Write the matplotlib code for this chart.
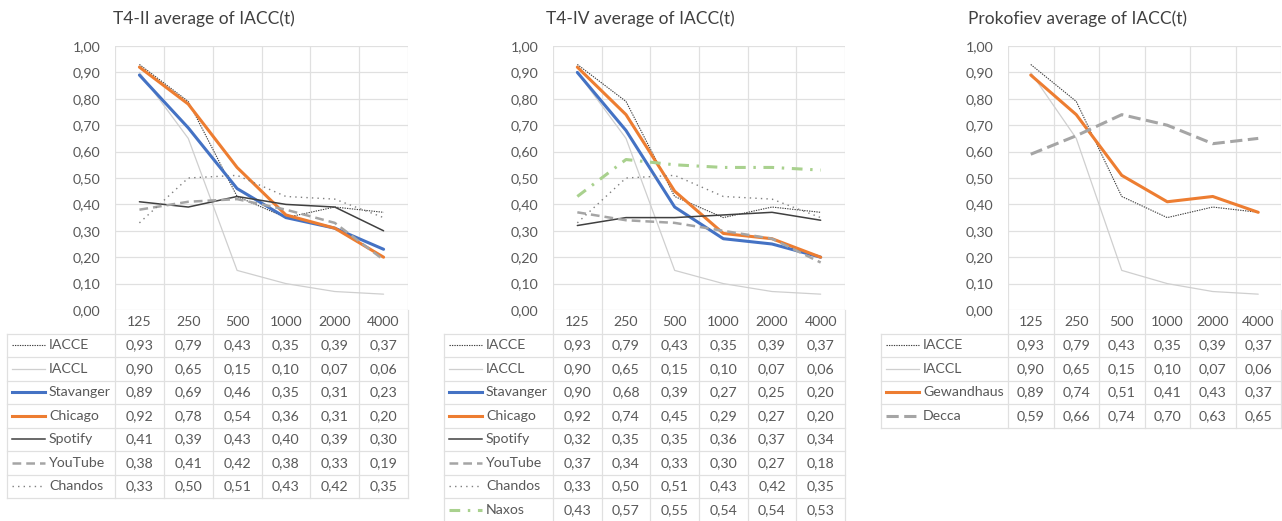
import matplotlib
matplotlib.use("Agg")
import matplotlib.pyplot as plt
from matplotlib.ticker import MultipleLocator, FuncFormatter

W, H = 1282, 521
TEXT = "#595959"
GRID = "#E0E0E0"
FS = 10.2
plt.rcParams["font.family"] = ["Lato", "DejaVu Sans"]

freqs = ["125", "250", "500", "1000", "2000", "4000"]

iacce = [0.93, 0.79, 0.43, 0.35, 0.39, 0.37]
iaccl = [0.90, 0.65, 0.15, 0.10, 0.07, 0.06]

t4ii_stavanger = [0.89, 0.69, 0.46, 0.35, 0.31, 0.23]
t4ii_chicago = [0.92, 0.78, 0.54, 0.36, 0.31, 0.20]
t4ii_spotify = [0.41, 0.39, 0.43, 0.40, 0.39, 0.30]
t4ii_youtube = [0.38, 0.41, 0.42, 0.38, 0.33, 0.19]
t4ii_chandos = [0.33, 0.50, 0.51, 0.43, 0.42, 0.35]

t4iv_stavanger = [0.90, 0.68, 0.39, 0.27, 0.25, 0.20]
t4iv_chicago = [0.92, 0.74, 0.45, 0.29, 0.27, 0.20]
t4iv_spotify = [0.32, 0.35, 0.35, 0.36, 0.37, 0.34]
t4iv_youtube = [0.37, 0.34, 0.33, 0.30, 0.27, 0.18]
t4iv_chandos = [0.33, 0.50, 0.51, 0.43, 0.42, 0.35]
t4iv_naxos = [0.43, 0.57, 0.55, 0.54, 0.54, 0.53]

prok_gewandhaus = [0.89, 0.74, 0.51, 0.41, 0.43, 0.37]
prok_decca = [0.59, 0.66, 0.74, 0.70, 0.63, 0.65]

# color, width (pt), dash pattern
styles = {
    "IACCE": ("#3F3F3F", 0.8, (0, (1.2, 1.0))),
    "IACCL": ("#CFCFCF", 0.9, "-"),
    "Stavanger": ("#4472C4", 2.2, "-"),
    "Chicago": ("#ED7D31", 2.2, "-"),
    "Gewandhaus": ("#ED7D31", 2.2, "-"),
    "Spotify": ("#404040", 1.1, "-"),
    "YouTube": ("#A5A5A5", 1.8, (0, (3.5, 2.0))),
    "Decca": ("#A5A5A5", 2.2, (0, (4.0, 1.8))),
    "Chandos": ("#7F7F7F", 1.0, (0, (1.0, 3.0))),
    "Naxos": ("#A9D18E", 2.2, (0, (3.5, 2.5, 0.8, 2.5))),
}

panels = [
    {
        "title": "T4-II average of IACC(t)",
        "plot": (115, 46, 408, 310),
        "table_left": 7,
        "series": [("IACCE", iacce), ("IACCL", iaccl), ("Stavanger", t4ii_stavanger),
                   ("Chicago", t4ii_chicago), ("Spotify", t4ii_spotify),
                   ("YouTube", t4ii_youtube), ("Chandos", t4ii_chandos)],
    },
    {
        "title": "T4-IV average of IACC(t)",
        "plot": (553, 46, 845, 310),
        "table_left": 444,
        "series": [("IACCE", iacce), ("IACCL", iaccl), ("Stavanger", t4iv_stavanger),
                   ("Chicago", t4iv_chicago), ("Spotify", t4iv_spotify),
                   ("YouTube", t4iv_youtube), ("Chandos", t4iv_chandos),
                   ("Naxos", t4iv_naxos)],
    },
    {
        "title": "Prokofiev average of IACC(t)",
        "plot": (1008, 46, 1281, 310),
        "table_left": 881,
        "series": [("IACCE", iacce), ("IACCL", iaccl),
                   ("Gewandhaus", prok_gewandhaus), ("Decca", prok_decca)],
    },
]

ROW_TOP = 333.5
ROW_H = 23.5
HEADER_Y = 322


def fig_box(l, t, r, b):
    return [l / W, 1 - b / H, (r - l) / W, (b - t) / H]


def comma(v, pos=None):
    return f"{v:.2f}".replace(".", ",")


fig = plt.figure(figsize=(W / 100, H / 100), dpi=100)
fig.patch.set_facecolor("white")

# pixel-space canvas for titles and data tables
canvas = fig.add_axes([0, 0, 1, 1])
canvas.set_xlim(0, W)
canvas.set_ylim(H, 0)
canvas.axis("off")
canvas.set_zorder(0)

for p in panels:
    l, t, r, b = p["plot"]
    ax = fig.add_axes(fig_box(l, t, r, b))
    ax.set_zorder(1)
    ax.set_facecolor("none")
    n = len(freqs)
    x = list(range(n))
    for name, vals in p["series"]:
        color, lw, ls = styles[name]
        ax.plot(x, vals, color=color, lw=lw, linestyle=ls,
                solid_joinstyle="round", dash_capstyle="butt", solid_capstyle="round")
    ax.set_xlim(-0.5, n - 0.5)
    ax.set_ylim(0, 1)
    ax.yaxis.set_major_locator(MultipleLocator(0.1))
    ax.yaxis.set_major_formatter(FuncFormatter(comma))
    ax.set_xticks([i + 0.5 for i in range(-1, n)])
    ax.grid(True, color=GRID, lw=0.9)
    for s in ax.spines.values():
        s.set_visible(False)
    ax.tick_params(axis="both", length=0, pad=10.5)
    ax.tick_params(axis="y", labelsize=FS, labelcolor=TEXT)
    ax.tick_params(axis="x", labelbottom=False)

    # title centred over the whole chart area
    tl = p["table_left"]
    canvas.text((tl + r) / 2 - 4, 19, p["title"], ha="center", va="center",
                fontsize=12.5, color="#404040")

    # data table
    cw = (r - l) / n
    nrows = len(p["series"])
    bottom = ROW_TOP + nrows * ROW_H
    for i in range(n + 1):
        xx = l + i * cw
        canvas.plot([xx, xx], [b, bottom], color=GRID, lw=0.9)
    canvas.plot([tl, tl], [ROW_TOP, bottom], color=GRID, lw=0.9)
    for j in range(nrows + 1):
        yy = ROW_TOP + j * ROW_H
        canvas.plot([tl, r], [yy, yy], color=GRID, lw=0.9)
    for i, f in enumerate(freqs):
        canvas.text(l + (i + 0.5) * cw, HEADER_Y, f, ha="center", va="center",
                    fontsize=FS, color=TEXT)
    for j, (name, vals) in enumerate(p["series"]):
        yc = ROW_TOP + (j + 0.5) * ROW_H
        color, lw, ls = styles[name]
        canvas.plot([tl + 5, tl + 38], [yc, yc], color=color, lw=lw, linestyle=ls)
        canvas.text(tl + 42, yc, name, ha="left", va="center", fontsize=FS, color=TEXT)
        for i, v in enumerate(vals):
            canvas.text(l + (i + 0.5) * cw, yc, comma(v), ha="center", va="center",
                        fontsize=FS, color=TEXT)

fig.savefig("out.png", dpi=100, facecolor="white")
